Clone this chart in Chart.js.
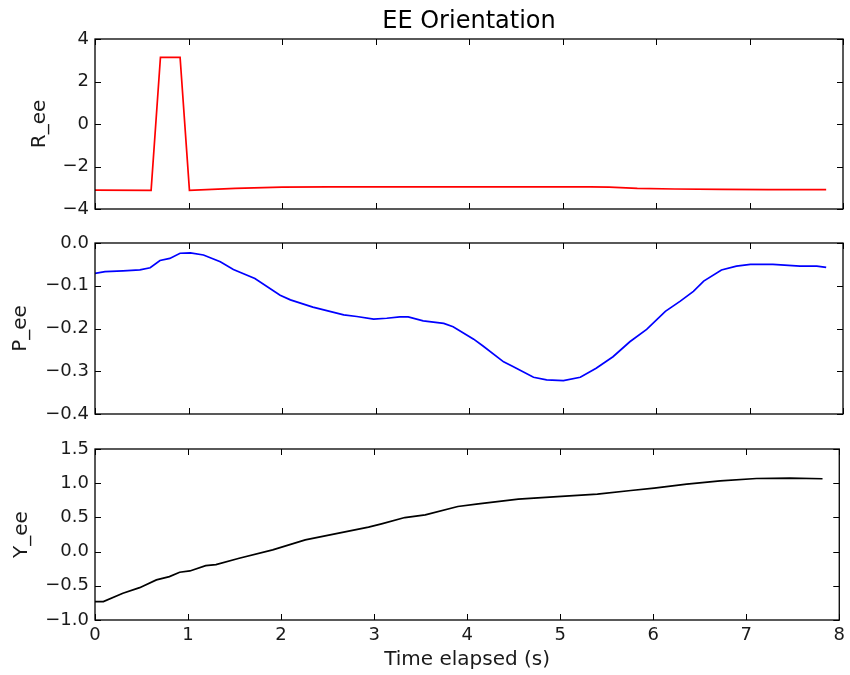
<!DOCTYPE html>
<html><head><meta charset="utf-8">
<script src="https://cdn.jsdelivr.net/npm/chart.js@4.4.1/dist/chart.umd.min.js"></script>
<style>
html,body{margin:0;padding:0;background:#fff;width:850px;height:675px;overflow:hidden}
canvas{position:absolute;left:0;top:0}
</style></head>
<body>
<canvas id="c1" width="850" height="675"></canvas>
<canvas id="c2" width="850" height="675"></canvas>
<canvas id="c3" width="850" height="675"></canvas>
<script>
// ---- data ----
const rTime   = [0, 0.6, 0.7, 0.91, 1.01, 1.5, 2.0, 2.5, 3.0, 3.5, 4.0, 4.5, 5.0, 5.3, 5.5, 5.8, 6.2, 6.7, 7.2, 7.82];
const rValues = [-3.11, -3.12, 3.14, 3.14, -3.12, -3.03, -2.97, -2.96, -2.96, -2.96, -2.96, -2.96, -2.96, -2.96, -2.97, -3.03, -3.06, -3.08, -3.09, -3.09];

const pTime   = [0, 0.107, 0.30, 0.48, 0.59, 0.695, 0.80, 0.91, 1.02, 1.16, 1.34, 1.48, 1.71, 1.98, 2.09, 2.33, 2.66, 2.80, 2.98, 3.12, 3.26, 3.35, 3.51, 3.73, 3.83, 4.05, 4.15, 4.37, 4.47, 4.69, 4.83, 5.01, 5.19, 5.36, 5.54, 5.72, 5.90, 6.10, 6.26, 6.40, 6.51, 6.70, 6.86, 7.01, 7.25, 7.54, 7.72, 7.82];
const pValues = [-0.071, -0.067, -0.065, -0.063, -0.058, -0.041, -0.036, -0.024, -0.023, -0.028, -0.044, -0.062, -0.083, -0.122, -0.133, -0.150, -0.168, -0.172, -0.178, -0.176, -0.173, -0.173, -0.182, -0.188, -0.196, -0.225, -0.241, -0.278, -0.289, -0.314, -0.320, -0.322, -0.314, -0.293, -0.266, -0.231, -0.202, -0.160, -0.136, -0.113, -0.089, -0.063, -0.054, -0.050, -0.050, -0.054, -0.054, -0.057];

const yTime   = [0, 0.09, 0.30, 0.48, 0.66, 0.80, 0.91, 1.02, 1.19, 1.30, 1.55, 1.91, 2.26, 2.62, 2.94, 3.08, 3.33, 3.55, 3.90, 4.12, 4.55, 4.97, 5.40, 5.76, 6.01, 6.36, 6.72, 7.11, 7.47, 7.82];
const yValues = [-0.732, -0.73, -0.609, -0.527, -0.414, -0.366, -0.302, -0.283, -0.205, -0.19, -0.097, 0.025, 0.171, 0.269, 0.357, 0.406, 0.498, 0.537, 0.659, 0.698, 0.767, 0.805, 0.840, 0.893, 0.928, 0.987, 1.035, 1.069, 1.075, 1.065];

const xTicks = [0, 1, 2, 3, 4, 5, 6, 7, 8];
const rTicks = [-4, -2, 0, 2, 4];
const pTicks = [-0.4, -0.3, -0.2, -0.1, 0];
const yTicks = [-1, -0.5, 0, 0.5, 1, 1.5];

// ---- drawing ----
const FONT = "'DejaVu Sans', sans-serif";
const TXT = '#1a1a1a';
const fmt = (v, d) => (v < -1e-9 ? '\u2212' : '') + Math.abs(v).toFixed(d);

const framePlugin = {
  id: 'frame',
  afterDraw(chart) {
    const {ctx, chartArea: a, scales} = chart;
    ctx.save();
    ctx.strokeStyle = '#000';
    ctx.lineWidth = 1.3;
    ctx.strokeRect(a.left, a.top, a.right - a.left, a.bottom - a.top);
    ctx.lineWidth = 1;
    const L = 6;
    ctx.beginPath();
    scales.x.ticks.forEach(t => {
      const px = Math.round(scales.x.getPixelForValue(t.value)) + 0.5;
      ctx.moveTo(px, a.bottom); ctx.lineTo(px, a.bottom - L);
      ctx.moveTo(px, a.top); ctx.lineTo(px, a.top + L);
    });
    scales.y.ticks.forEach(t => {
      const py = Math.round(scales.y.getPixelForValue(t.value)) + 0.5;
      ctx.moveTo(a.left, py); ctx.lineTo(a.left + L, py);
      ctx.moveTo(a.right, py); ctx.lineTo(a.right - L, py);
    });
    ctx.stroke();
    ctx.restore();
  }
};

function makeChart(id, times, values, color, ticks, dec, label, o) {
  return new Chart(document.getElementById(id), {
    type: 'line',
    data: {
      datasets: [{
        data: times.map((t, i) => ({x: t, y: values[i]})),
        borderColor: color, borderWidth: 1.7, pointRadius: 0, tension: 0, fill: false
      }]
    },
    options: {
      responsive: false, animation: false, devicePixelRatio: 1,
      layout: {padding: o.padding},
      plugins: {
        legend: {display: false},
        tooltip: {enabled: false},
        title: o.title || {display: false}
      },
      scales: {
        x: {
          type: 'linear', min: 0, max: 8, display: o.showX,
          afterBuildTicks: s => { s.ticks = xTicks.map(v => ({value: v})); },
          afterFit: s => { s.height = o.showX ? 55 : 0; },
          grid: {display: false, drawTicks: false},
          border: {display: false},
          ticks: {padding: 5, autoSkip: false, maxRotation: 0, color: TXT,
                  font: {family: FONT, size: 18}, callback: v => String(v)},
          title: {display: o.showX, text: 'Time elapsed (s)', color: TXT,
                  font: {family: FONT, size: 20}, padding: {top: 0, bottom: 3}}
        },
        y: {
          type: 'linear', min: ticks[0], max: ticks[ticks.length - 1],
          afterBuildTicks: s => { s.ticks = ticks.map(v => ({value: v})); },
          afterFit: s => { s.width = 95; },
          grid: {display: false, drawTicks: false},
          border: {display: false},
          ticks: {padding: 6, autoSkip: false, color: TXT,
                  font: {family: FONT, size: 18}, callback: v => fmt(v, dec)},
          title: {display: true, text: label, color: TXT,
                  font: {family: FONT, size: 20}, padding: {top: o.titlePad, bottom: 0}}
        }
      }
    },
    plugins: [framePlugin]
  });
}

makeChart('c1', rTime, rValues, '#ff0000', rTicks, 0, 'R_ee', {
  padding: {left: 0, right: 7, top: 0, bottom: 466},
  showX: false, titlePad: 28,
  title: {display: true, text: 'EE Orientation', fullSize: false, color: '#000',
          font: {family: FONT, size: 24, weight: 'normal'}, padding: {top: 7, bottom: 3.2}}
});
makeChart('c2', pTime, pValues, '#0000ff', pTicks, 1, 'P_ee', {
  padding: {left: 0, right: 7, top: 243, bottom: 261},
  showX: false, titlePad: 9
});
makeChart('c3', yTime, yValues, '#000000', yTicks, 1, 'Y_ee', {
  padding: {left: 0, right: 7, top: 449, bottom: 0},
  showX: true, titlePad: 10
});
</script>
</body></html>
